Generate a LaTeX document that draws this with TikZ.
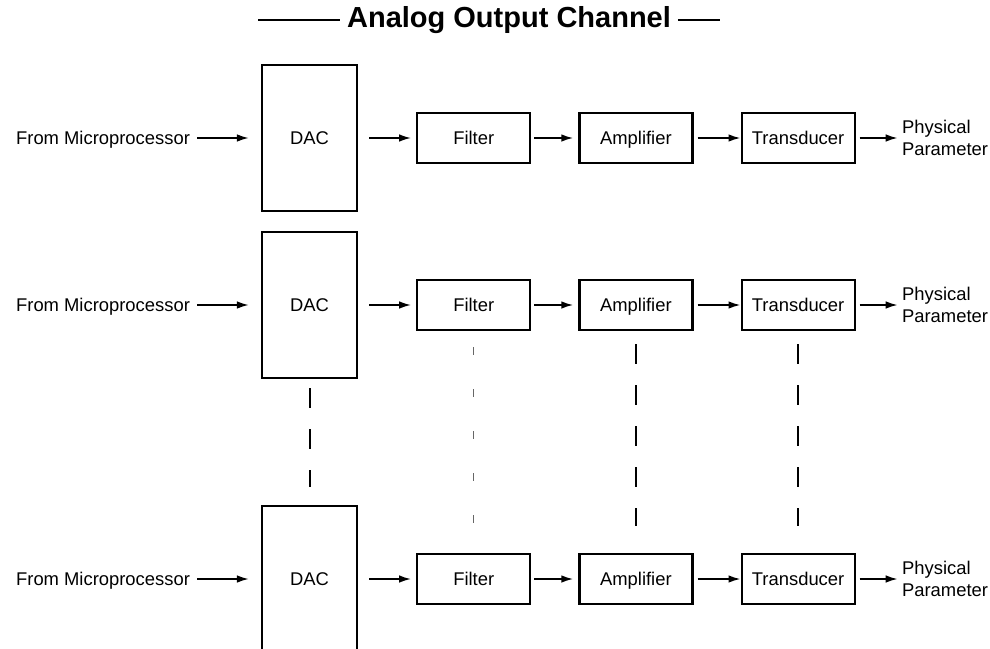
\documentclass[tikz,border=0pt]{standalone}
\usepackage{fontspec}
\setmainfont{Liberation Sans}
\usetikzlibrary{positioning,arrows.meta}

\begin{document}
\begin{tikzpicture}[x=0.5pt, y=-0.5pt, node distance=23.5pt,
        every node/.style={font=\fontsize{9.2}{11}\selectfont},
        block/.style={draw, line width=1.1pt, minimum width=56.5pt, minimum height=25pt, inner sep=0pt, text height=6.6pt, text depth=0.4pt},
        dacbox/.style={draw, line width=1.1pt, minimum width=47.5pt, minimum height=73pt, inner sep=0pt, text height=6.6pt, text depth=0.4pt},
        flow/.style={-{Latex[length=6pt,width=3.8pt]}, line width=0.9pt},
        gapline/.style={line width=1pt, dash pattern=on 10pt off 10.5pt},
        dotline/.style={line width=0.6pt, black!60, dash pattern=on 4pt off 17pt}]

        \useasboundingbox (0,0) rectangle (990,648);

        % title
        \node[font=\fontsize{14.5}{17}\selectfont\bfseries] (title) at (509,20) {Analog Output Channel};
        \coordinate (tl) at (258,20);
        \coordinate (tr) at (720,20);
        \draw[line width=1pt] (tl) -- (title);
        \draw[line width=1pt] (title) -- (tr);

        % channel 1
        \node[dacbox] (dac1) at (309.5,138) {DAC};
        \node[anchor=east, text height=6.6pt, text depth=0.4pt] (mp1) at (197,138) {From Microprocessor};
        \node[block, right=29pt of dac1] (filter1) {Filter};
        \node[block, right=of filter1] (amp1) {Amplifier};
        \node[block, right=of amp1] (trans1) {Transducer};
        \node[align=left, inner sep=2pt, right=21pt of trans1] (phys1) {Physical\\Parameter};

        % channel 2
        \node[dacbox] (dac2) at (309.5,305) {DAC};
        \node[anchor=east, text height=6.6pt, text depth=0.4pt] (mp2) at (197,305) {From Microprocessor};
        \node[block, right=29pt of dac2] (filter2) {Filter};
        \node[block, right=of filter2] (amp2) {Amplifier};
        \node[block, right=of amp2] (trans2) {Transducer};
        \node[align=left, inner sep=2pt, right=21pt of trans2] (phys2) {Physical\\Parameter};

        % channel n
        \node[dacbox] (dac3) at (309.5,579) {DAC};
        \node[anchor=east, text height=6.6pt, text depth=0.4pt] (mp3) at (197,579) {From Microprocessor};
        \node[block, right=29pt of dac3] (filter3) {Filter};
        \node[block, right=of filter3] (amp3) {Amplifier};
        \node[block, right=of amp3] (trans3) {Transducer};
        \node[align=left, inner sep=2pt, right=21pt of trans3] (phys3) {Physical\\Parameter};

        \draw[flow, shorten >=6pt] (mp1) -- (dac1);
        \draw[flow, shorten <=5.5pt, shorten >=2.5pt] (dac1) -- (filter1);
        \draw[flow, shorten <=1.5pt, shorten >=2.5pt] (filter1) -- (amp1);
        \draw[flow, shorten <=2pt] (amp1) -- (trans1);
        \draw[flow, shorten <=2pt] (trans1) -- (phys1);

        \draw[flow, shorten >=6pt] (mp2) -- (dac2);
        \draw[flow, shorten <=5.5pt, shorten >=2.5pt] (dac2) -- (filter2);
        \draw[flow, shorten <=1.5pt, shorten >=2.5pt] (filter2) -- (amp2);
        \draw[flow, shorten <=2pt] (amp2) -- (trans2);
        \draw[flow, shorten <=2pt] (trans2) -- (phys2);

        \draw[flow, shorten >=6pt] (mp3) -- (dac3);
        \draw[flow, shorten <=5.5pt, shorten >=2.5pt] (dac3) -- (filter3);
        \draw[flow, shorten <=1.5pt, shorten >=2.5pt] (filter3) -- (amp3);
        \draw[flow, shorten <=2pt] (amp3) -- (trans3);
        \draw[flow, shorten <=2pt] (trans3) -- (phys3);

        % more channels in between
        \draw[gapline, shorten <=4.5pt, shorten >=9pt] (dac2) -- (dac3);
        \draw[dotline, shorten <=8pt, shorten >=15pt] (filter2) -- (filter3);
        \draw[gapline, shorten <=6.5pt, shorten >=13.5pt] (amp2) -- (amp3);
        \draw[gapline, shorten <=6.5pt, shorten >=13.5pt] (trans2) -- (trans3);
    \end{tikzpicture}
\end{document}
